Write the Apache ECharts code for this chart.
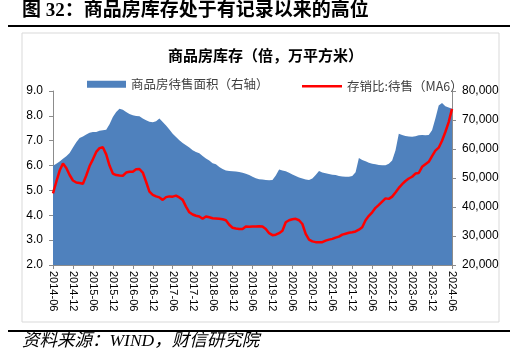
<!DOCTYPE html>
<html>
<head>
<meta charset="utf-8">
<script src="https://cdn.jsdelivr.net/npm/echarts@6/dist/echarts.min.js"></script>
<style>
html,body{margin:0;padding:0;background:#fff;}
#chart{width:531px;height:363px;}
</style>
</head>
<body>
<div id="chart"></div>
<script>
// Categories: monthly, 2014-06 .. 2024-06
var months = [];
for (var y = 2014; y <= 2024; y++) {
  for (var m = 1; m <= 12; m++) {
    if ((y === 2014 && m < 6) || (y === 2024 && m > 6)) continue;
    months.push(y + '-' + (m < 10 ? '0' + m : '' + m));
  }
}

// 商品房待售面积 (万平方米, right axis)
var inventoryArea = [
  54200, 54900, 55700, 56600, 57500, 58600, 60500, 62300, 63800, 64300,
  65000, 65600, 65900, 65900, 66300, 66500, 66600, 68500, 71000, 72800,
  73900, 73500, 72800, 72100, 71600, 71400, 71300, 70500, 69900, 69400,
  69200, 69600, 70500, 69300, 68100, 66700, 65300, 64100, 63000, 62100,
  61300, 60500, 59600, 59000, 58500, 57600, 56700, 56000, 55100, 54700,
  53800, 53100, 52600, 52400, 52300, 52200, 52100, 51800, 51500, 51000,
  50400, 49900, 49600, 49500, 49300, 49200, 49300, 50900, 52900, 52600,
  52300, 51800, 51200, 50700, 50200, 49800, 49500, 49300, 49800, 51000,
  52400, 51900, 51600, 51400, 51100, 51000, 50700, 50500, 50400, 50400,
  50700, 52000, 56900, 56200, 55800, 55300, 54900, 54700, 54500, 54400,
  54400, 54900, 56000, 59500, 65300, 64800, 64500, 64300, 64200, 64400,
  64700, 64800, 64700, 64800, 66500, 70500, 75000, 75900, 74700, 74300,
  73900
];

// 存销比:待售 (MA6), left axis
var salesRatio = [
  4.88, 5.35, 5.80, 6.08, 5.90, 5.62, 5.40, 5.32, 5.30, 5.27,
  5.60, 5.98, 6.25, 6.55, 6.70, 6.74, 6.45, 6.00, 5.68, 5.62,
  5.60, 5.59, 5.72, 5.75, 5.75, 5.85, 5.86, 5.72, 5.35, 4.95,
  4.82, 4.76, 4.72, 4.62, 4.73, 4.76, 4.75, 4.79, 4.72, 4.62,
  4.35, 4.12, 4.03, 3.98, 3.95, 3.86, 3.95, 3.92, 3.88, 3.87,
  3.86, 3.84, 3.80, 3.62, 3.50, 3.47, 3.45, 3.45, 3.55, 3.54,
  3.55, 3.55, 3.56, 3.55, 3.45, 3.28, 3.20, 3.22, 3.28, 3.38,
  3.72, 3.80, 3.84, 3.86, 3.80, 3.65, 3.25, 3.02, 2.95, 2.92,
  2.92, 2.92, 2.98, 3.02, 3.05, 3.10, 3.14, 3.22, 3.26, 3.30,
  3.32, 3.35, 3.42, 3.52, 3.80, 3.98, 4.12, 4.30, 4.42, 4.55,
  4.68, 4.66, 4.75, 4.92, 5.10, 5.25, 5.38, 5.48, 5.55, 5.68,
  5.70, 5.95, 6.05, 6.15, 6.38, 6.60, 6.72, 7.00, 7.35, 7.75,
  8.28
];

var seriesNames = ['商品房待售面积（右轴）', '存销比:待售（MA6）'];
var leftTicks = { min: 2, max: 9, interval: 1 };
var rightTicks = { min: 20000, max: 80000, interval: 10000 };

var chart = echarts.init(document.getElementById('chart'), null, { renderer: 'canvas' });
var axisGray = '#8c8c8c';
var cjk = "'Noto Sans CJK SC', sans-serif";
var legendText = { fontSize: 12.5, color: '#404040', fontFamily: cjk };

chart.setOption({
  animation: false,
  backgroundColor: '#ffffff',
  textStyle: { fontFamily: cjk },
  graphic: [
    { type: 'text', x: 22, y: 2,
      style: { text: '图 32：商品房库存处于有记录以来的高位', fill: '#000',
        font: "bold 19px 'Liberation Serif', 'Noto Sans CJK SC', serif" } },
    { type: 'rect', shape: { x: 8, y: 25, width: 502, height: 2 }, style: { fill: '#000' } },
    { type: 'rect', shape: { x: 22, y: 33, width: 477, height: 289 },
      style: { fill: 'none', stroke: '#d9d9d9', lineWidth: 1 } },
    { type: 'rect', shape: { x: 8, y: 330, width: 502, height: 2 }, style: { fill: '#000' } },
    { type: 'text', x: 22, y: 333,
      style: { text: '资料来源：WIND，财信研究院', fill: '#000',
        font: "italic 17.5px 'Liberation Serif', 'Noto Sans CJK SC', serif" } }
  ],
  title: {
    text: '商品房库存（倍，万平方米）',
    left: 'center', top: 43,
    textStyle: { fontSize: 15, fontWeight: 'bold', color: '#000', fontFamily: cjk }
  },
  legend: [
    {
      left: 82, top: 73,
      itemWidth: 39, itemHeight: 7,
      textStyle: legendText,
      data: [{ name: seriesNames[0], icon: 'rect' }]
    },
    {
      left: 297, top: 75,
      itemWidth: 40, itemHeight: 2.5,
      textStyle: legendText,
      data: [{ name: seriesNames[1], icon: 'rect' }]
    }
  ],
  grid: { left: 53, right: 79, top: 91, bottom: 98, containLabel: false },
  xAxis: {
    type: 'category',
    data: months,
    boundaryGap: false,
    axisLine: { lineStyle: { color: axisGray, width: 1 } },
    axisTick: { interval: 5, length: 4, lineStyle: { color: axisGray } },
    axisLabel: { interval: 5, rotate: -90, fontSize: 11, color: '#000', margin: 6, fontFamily: "'Liberation Sans', sans-serif" },
    splitLine: { show: false }
  },
  yAxis: [
    {
      type: 'value', position: 'left',
      min: leftTicks.min, max: leftTicks.max, interval: leftTicks.interval,
      axisLine: { show: true, lineStyle: { color: axisGray } },
      axisTick: { show: true, length: 4, lineStyle: { color: axisGray } },
      axisLabel: { fontSize: 12, color: '#000', margin: 10, fontFamily: "'Liberation Sans', sans-serif",
        formatter: function (v) { return v.toFixed(1); } },
      splitLine: { show: false }
    },
    {
      type: 'value', position: 'right',
      min: rightTicks.min, max: rightTicks.max, interval: rightTicks.interval,
      axisLine: { show: true, lineStyle: { color: axisGray } },
      axisTick: { show: true, length: 4, lineStyle: { color: axisGray } },
      axisLabel: { fontSize: 12, color: '#000', margin: 10, fontFamily: "'Liberation Sans', sans-serif" },
      splitLine: { show: false }
    }
  ],
  series: [
    {
      name: seriesNames[0], type: 'line', yAxisIndex: 1,
      data: inventoryArea, symbol: 'none',
      lineStyle: { width: 0, color: '#4f81bd' },
      itemStyle: { color: '#4f81bd' },
      areaStyle: { color: '#4f81bd', opacity: 1, origin: 'start' },
      z: 1
    },
    {
      name: seriesNames[1], type: 'line', yAxisIndex: 0,
      data: salesRatio, symbol: 'none',
      lineStyle: { width: 2.5, color: '#ff0000' },
      itemStyle: { color: '#ff0000' },
      z: 3
    }
  ]
});
</script>
</body>
</html>
